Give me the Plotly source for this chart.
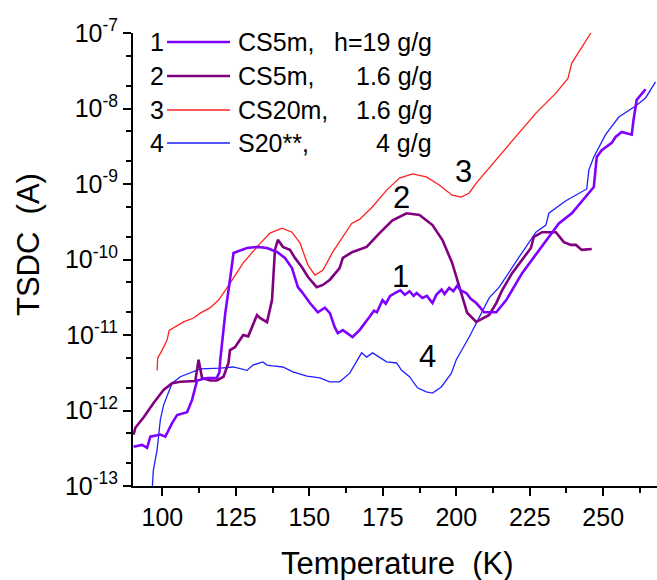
import plotly.graph_objects as go

# ---------------- data ----------------
# Curve 1: CS5m, h=19 g/g
t1 = [90.2, 93.1, 94.8, 95.9, 99.3, 101.0, 103.3, 105.0, 108.4, 110.1, 111.8, 115.2, 118.5, 119.4, 119.7,
      121.4, 123.0, 124.2, 125.1, 128.8, 132.2, 135.6, 139.0, 141.7, 144.1, 146.1, 147.5, 150.2, 152.9, 155.3,
      157.0, 158.6, 159.7, 161.4, 164.7, 167.1, 170.5, 172.0, 173.0, 174.9, 176.0, 177.5, 179.7, 181.0, 182.5,
      184.1, 185.5, 186.5, 188.5, 190.0, 191.9, 193.2, 195.0, 196.0, 197.6, 199.0, 200.3, 201.5, 203.4, 205.0,
      206.8, 209.5, 213.6, 217.0, 222.4, 228.1, 234.9, 239.3, 246.8, 247.8, 249.5, 252.9, 254.2, 256.3, 259.7,
      260.3, 261.4, 264.4]
i1 = [3.3e-13, 3.5e-13, 3.2e-13, 4.5e-13, 4.8e-13, 4.5e-13, 6.8e-13, 8.7e-13, 9.5e-13, 1.38e-12, 2.5e-12, 2.7e-12, 2.7e-12, 3.2e-12, 4.7e-12,
      1.95e-11, 5.4e-11, 1.22e-10, 1.26e-10, 1.42e-10, 1.47e-10, 1.42e-10, 1.26e-10, 1.05e-10, 7.7e-11, 4.3e-11, 3.7e-11, 2.65e-11, 2.0e-11, 2.3e-11,
      1.95e-11, 1.28e-11, 1.06e-11, 1.16e-11, 9.4e-12, 1.16e-11, 1.74e-11, 2.1e-11, 2.0e-11, 2.9e-11, 2.6e-11, 3.3e-11, 3.7e-11, 3.9e-11, 3.4e-11,
      3.8e-11, 3.3e-11, 3.6e-11, 3.1e-11, 3.3e-11, 2.65e-11, 3.4e-11, 4.0e-11, 3.5e-11, 4.2e-11, 3.8e-11, 4.5e-11, 3.9e-11, 3.6e-11, 3.0e-11,
      2.65e-11, 2.0e-11, 2.0e-11, 2.9e-11, 6.6e-11, 1.34e-10, 3.0e-10, 4.1e-10, 9.1e-10, 2.28e-9, 2.8e-9, 3.5e-9, 4.2e-9, 4.9e-9, 4.5e-9,
      7.0e-9, 1.3e-8, 1.8e-8]

# Curve 2: CS5m, 1.6 g/g
t2 = [90.2, 90.8, 93.7, 97.0, 100.4, 103.3, 106.1, 108.9, 111.2, 112.3, 113.5, 116.3, 118.5, 120.8, 122.5,
      123.0, 124.7, 127.5, 129.2, 132.2, 133.2, 135.6, 137.3, 138.3, 139.3, 141.0, 143.4, 145.1, 147.5, 149.5,
      152.5, 154.6, 157.0, 160.3, 161.4, 164.7, 169.5, 173.9, 178.3, 183.1, 187.5, 191.9, 195.3, 198.6, 201.7,
      203.7, 206.8, 209.5, 211.2, 213.6, 215.6, 219.0, 222.4, 225.4, 226.4, 229.2, 233.9, 236.6, 239.0, 240.7,
      242.7, 246.1]
i2 = [4.8e-13, 5.9e-13, 8.2e-13, 1.26e-12, 1.87e-12, 2.3e-12, 2.4e-12, 2.4e-12, 2.45e-12, 4.7e-12, 2.7e-12, 2.5e-12, 2.5e-12, 2.8e-12, 4.3e-12,
      6.3e-12, 6.9e-12, 1.0e-11, 9.6e-12, 1.84e-11, 1.68e-11, 1.48e-11, 2.9e-11, 1.34e-10, 1.82e-10, 1.47e-10, 1.34e-10, 1.05e-10, 7.9e-11, 5.9e-11,
      4.3e-11, 4.6e-11, 5.4e-11, 7.7e-11, 1.05e-10, 1.26e-10, 1.47e-10, 2.24e-10, 3.3e-10, 4.1e-10, 3.9e-10, 2.86e-10, 1.81e-10, 9.0e-11, 3.6e-11,
      1.97e-11, 1.49e-11, 1.68e-11, 1.84e-11, 2.65e-11, 3.9e-11, 6.6e-11, 9.8e-11, 1.42e-10, 2.0e-10, 2.3e-10, 2.3e-10, 1.7e-10, 1.56e-10, 1.56e-10,
      1.34e-10, 1.38e-10]

# Curve 3: CS20m, 1.6 g/g
t3 = [98.2, 98.4, 99.9, 101.6, 102.3, 103.8, 107.2, 110.6, 112.9, 116.3, 119.1, 122.5, 127.5, 132.2, 136.6,
      140.7, 144.1, 146.8, 149.5, 151.9, 154.6, 158.0, 160.3, 164.4, 167.1, 171.5, 176.3, 180.7, 185.1, 189.8,
      194.2, 198.6, 201.7, 204.4, 206.8, 213.6, 220.3, 227.1, 233.9, 238.0, 239.3, 242.7, 245.8]
i3 = [3.4e-12, 4.95e-12, 6.3e-12, 8.6e-12, 1.15e-11, 1.24e-11, 1.49e-11, 1.68e-11, 1.95e-11, 2.3e-11, 2.9e-11, 4.5e-11, 9.0e-11, 1.47e-10, 2.24e-10,
      2.6e-10, 2.3e-10, 1.66e-10, 8.5e-11, 6.2e-11, 7.2e-11, 1.26e-10, 1.7e-10, 3.0e-10, 3.4e-10, 5.0e-10, 8.3e-10, 1.2e-9, 1.36e-9, 1.24e-9,
      9.7e-10, 7.1e-10, 6.7e-10, 7.6e-10, 1.03e-9, 2.1e-9, 4.2e-9, 8.7e-9, 1.6e-8, 2.5e-8, 4.0e-8, 6.5e-8, 1.0e-7]

# Curve 4: S20**, 4 g/g
t4 = [96.6, 96.9, 98.2, 99.3, 100.4, 101.6, 103.3, 106.1, 112.9, 119.7, 124.1, 128.8, 130.8, 134.2, 135.6,
      137.6, 141.0, 144.4, 149.2, 153.6, 156.9, 160.3, 163.7, 167.8, 169.5, 171.5, 173.9, 176.3, 179.7, 181.4,
      184.1, 186.8, 189.8, 191.9, 194.9, 198.3, 200.0, 204.4, 211.2, 214.6, 221.4, 227.1, 230.5, 231.5, 237.3,
      244.4, 245.1, 246.8, 250.8, 255.3, 261.0, 264.4, 267.8]
i4 = [1.0e-13, 1.6e-13, 3.0e-13, 7.5e-13, 1.18e-12, 1.6e-12, 2.3e-12, 2.8e-12, 3.55e-12, 3.65e-12, 3.77e-12, 3.4e-12, 4.0e-12, 4.4e-12, 4.0e-12,
      3.9e-12, 3.77e-12, 3.24e-12, 2.86e-12, 2.7e-12, 2.4e-12, 2.4e-12, 3.1e-12, 5.8e-12, 5.1e-12, 5.8e-12, 5.0e-12, 4.4e-12, 4.26e-12, 3.4e-12,
      2.8e-12, 2.0e-12, 1.76e-12, 1.7e-12, 2.05e-12, 3.1e-12, 4.7e-12, 9.4e-12, 3.1e-11, 4.3e-11, 1.08e-10, 2.3e-10, 2.86e-10, 4.1e-10, 6.0e-10,
      8.6e-10, 1.53e-9, 2.28e-9, 4.5e-9, 7.7e-9, 1.08e-8, 1.38e-8, 2.25e-8]

series_numbers = ["1", "2", "3", "4"]
series_names = ["CS5m,", "CS5m,", "CS20m,", "S20**,"]
series_values = ["h=19 g/g", "1.6 g/g", "1.6 g/g", "4 g/g"]
series_colors = ["#8000ff", "#800080", "#ff2020", "#2020ff"]
series_widths = [2.6, 2.6, 1.3, 1.3]

# curve labels placed on the chart (T, log10 I)
curve_label_T = [181.0, 181.4, 202.4, 190.2]
curve_label_logI = [-10.22, -9.185, -8.84, -11.29]

X_RANGE = [90, 268.3]
X_TICK0, X_DTICK, X_MINOR_DTICK = 100, 25, 12.5
Y_RANGE_LOG = [-13, -7]
y_tickvals = [1e-13, 1e-12, 1e-11, 1e-10, 1e-9, 1e-8, 1e-7]
y_ticktext = ["10<sup>-13</sup>", "10<sup>-12</sup>", "10<sup>-11</sup>", "10<sup>-10</sup>",
              "10<sup>-9</sup>", "10<sup>-8</sup>", "10<sup>-7</sup>"]

FONT = "Liberation Sans, Arial, sans-serif"
W, H = 657, 580
ML, MR, MT, MB = 133, 0, 33, 94
PW, PH = W - ML - MR, H - MT - MB


def px(x):
    return (x - ML) / PW


def py(y):
    return (H - MB - y) / PH


fig = go.Figure()
for t, i, c, w in [(t4, i4, series_colors[3], series_widths[3]),
                   (t3, i3, series_colors[2], series_widths[2]),
                   (t2, i2, series_colors[1], series_widths[1]),
                   (t1, i1, series_colors[0], series_widths[0])]:
    fig.add_trace(go.Scatter(x=t, y=i, mode="lines", line=dict(color=c, width=w), showlegend=False))

annotations = []
shapes = []
# custom legend
legend_rows_px = [42, 76, 110, 143]
for k in range(4):
    yy = py(legend_rows_px[k])
    annotations.append(dict(x=px(166), y=yy, xref="paper", yref="paper", text=series_numbers[k],
                            showarrow=False, xanchor="right", yanchor="middle",
                            font=dict(family=FONT, size=25, color="black")))
    shapes.append(dict(type="line", xref="paper", yref="paper", x0=px(167), x1=px(230), y0=yy, y1=yy,
                       line=dict(color=series_colors[k], width=series_widths[k])))
    annotations.append(dict(x=px(236), y=yy, xref="paper", yref="paper", text=series_names[k],
                            showarrow=False, xanchor="left", yanchor="middle",
                            font=dict(family=FONT, size=25, color="black")))
    annotations.append(dict(x=px(434), y=yy, xref="paper", yref="paper", text=series_values[k],
                            showarrow=False, xanchor="right", yanchor="middle",
                            font=dict(family=FONT, size=25, color="black")))

for k in range(4):
    annotations.append(dict(x=curve_label_T[k], y=curve_label_logI[k], xref="x", yref="y",
                            text=series_numbers[k], showarrow=False, xanchor="center", yanchor="middle",
                            font=dict(family=FONT, size=31, color="black")))

# axis titles
annotations.append(dict(x=px(397), y=py(563), xref="paper", yref="paper", text="Temperature\u00a0\u00a0(K)",
                        showarrow=False, xanchor="center", yanchor="middle",
                        font=dict(family=FONT, size=31, color="black")))
annotations.append(dict(x=px(29), y=py(245), xref="paper", yref="paper", text="TSDC\u00a0\u00a0(A)",
                        showarrow=False, xanchor="center", yanchor="middle", textangle=-90,
                        font=dict(family=FONT, size=31, color="black")))

fig.update_layout(
    width=W, height=H,
    margin=dict(l=ML, r=MR, t=MT, b=MB, pad=0),
    paper_bgcolor="white", plot_bgcolor="white",
    font=dict(family=FONT, size=25, color="black"),
    annotations=annotations, shapes=shapes,
    showlegend=False,
    xaxis=dict(
        range=X_RANGE, tick0=X_TICK0, dtick=X_DTICK,
        ticks="outside", ticklen=8, tickwidth=2, tickcolor="black",
        showline=True, linecolor="black", linewidth=2,
        showgrid=False, zeroline=False,
        tickfont=dict(family=FONT, size=25, color="black"),
        minor=dict(ticks="outside", ticklen=5, tickcolor="black", dtick=X_MINOR_DTICK, tickwidth=2,
                   showgrid=False),
    ),
    yaxis=dict(
        type="log", range=Y_RANGE_LOG, tickmode="array", tickvals=y_tickvals, ticktext=y_ticktext,
        ticks="outside", ticklen=8, tickwidth=2, tickcolor="black",
        showline=True, linecolor="black", linewidth=2,
        showgrid=False, zeroline=False,
        tickfont=dict(family=FONT, size=25, color="black"),
        minor=dict(ticks="outside", ticklen=5, tickcolor="black", tickwidth=1.5, showgrid=False),
    ),
)

fig.write_html("out.html")
